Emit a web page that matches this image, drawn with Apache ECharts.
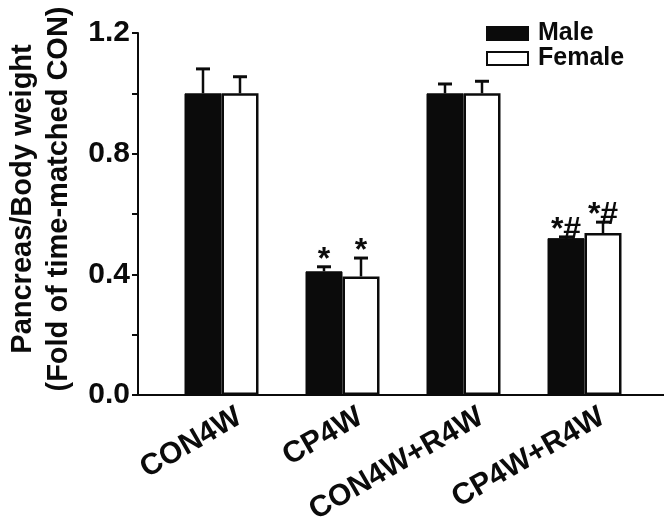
<!DOCTYPE html>
<html>
<head>
<meta charset="utf-8">
<script src="https://cdn.jsdelivr.net/npm/echarts@6/dist/echarts.min.js"></script>
<style>
  html, body { margin: 0; padding: 0; background: #fff; }
  #main { width: 664px; height: 522px; }
</style>
</head>
<body>
<div id="main"></div>
<script>
var chartDom = document.getElementById('main');
var myChart = echarts.init(chartDom);
var option;

// data
var categories = ['CON4W', 'CP4W', 'CON4W+R4W', 'CP4W+R4W'];
var maleValues = [1.0, 0.41, 1.0, 0.52];
var maleErrors = [0.081, 0.015, 0.031, 0.004];
var femaleValues = [1.0, 0.393, 1.0, 0.537];
var femaleErrors = [0.055, 0.061, 0.04, 0.036];
var maleMarks = ['', '*', '', '*#'];
var femaleMarks = ['', '*', '', '*#'];

var black = '#0b0b0b';
var font = 'Liberation Sans, Arial, sans-serif';
var barW = 37;

// error bar + significance mark, shifted to the bar's side
function errorBar(values, errors, marks, side) {
    return function (params, api) {
        var i = params.dataIndex;
        var shift = side * barW / 2;
        var top = api.coord([i, values[i]]);
        var hi = api.coord([i, values[i] + errors[i]]);
        var x = top[0] + shift;
        var kids = [
            {type: 'line', shape: {x1: x, y1: top[1], x2: x, y2: hi[1]},
             style: {stroke: black, lineWidth: 2.5}},
            {type: 'line', shape: {x1: x - 7, y1: hi[1], x2: x + 7, y2: hi[1]},
             style: {stroke: black, lineWidth: 3}}
        ];
        if (marks[i]) {
            kids.push({type: 'text', x: x, y: hi[1] - 7,
                style: {text: marks[i], fill: black, font: 'bold 32px ' + font,
                        align: 'center', verticalAlign: 'middle'}});
        }
        return {type: 'group', children: kids};
    };
}

var gridBase = {top: 33, bottom: 127, containLabel: false, outerBoundsMode: 'none'};

option = {
    animation: false,
    backgroundColor: '#fff',
    legend: {
        orient: 'vertical',
        left: 481,
        top: 16,
        itemWidth: 41,
        itemHeight: 13,
        itemGap: 0,
        icon: 'rect',
        textStyle: {fontFamily: font, fontWeight: 'bold', fontSize: 25, color: black,
                    lineHeight: 24, padding: [0, 0, 0, 5]},
        data: ['Male', 'Female']
    },
    grid: [
        Object.assign({left: 161, right: 19}, gridBase),
        Object.assign({left: 138, right: 0}, gridBase),
        Object.assign({left: 179, right: 1}, gridBase)
    ],
    xAxis: [{
        type: 'category',
        data: categories,
        gridIndex: 0,
        axisLine: {show: false},
        axisTick: {show: false},
        axisLabel: {show: false}
    }, {
        type: 'value',
        gridIndex: 1,
        min: 0, max: 1,
        axisLine: {show: true, onZero: false, lineStyle: {color: black, width: 2}},
        axisTick: {show: false},
        axisLabel: {show: false},
        splitLine: {show: false}
    }, {
        // label row, set a little right of the bars as in the figure
        type: 'category',
        data: categories,
        gridIndex: 2,
        axisLine: {show: false},
        axisTick: {show: false},
        axisLabel: {
            rotate: 30,
            margin: 20,
            color: black,
            fontFamily: font,
            fontWeight: 'bold',
            fontSize: 30,
            interval: 0
        }
    }],
    yAxis: [{
        type: 'value',
        gridIndex: 0,
        min: 0,
        max: 1.2,
        interval: 0.4,
        offset: 23,
        name: 'Pancreas/Body weight\n(Fold of time-matched CON)',
        nameLocation: 'middle',
        nameGap: 42,
        nameTextStyle: {fontFamily: font, fontWeight: 'bold', fontSize: 29, color: black,
                        lineHeight: 36, padding: [0, 0, 0, 30]},
        axisLine: {show: true, lineStyle: {color: black, width: 2}},
        axisTick: {show: true, length: 6, lineStyle: {color: black, width: 2}},
        minorTick: {show: true, splitNumber: 2, length: 6, lineStyle: {color: black, width: 2}},
        splitLine: {show: false},
        axisLabel: {
            margin: 8,
            color: black,
            fontFamily: font,
            fontWeight: 'bold',
            fontSize: 30,
            formatter: function (v) { return v.toFixed(1); }
        }
    }, {
        type: 'value',
        gridIndex: 1,
        min: 0, max: 1,
        show: false
    }, {
        type: 'value',
        gridIndex: 2,
        min: 0, max: 1,
        show: false
    }],
    series: [{
        name: 'Male',
        type: 'bar',
        data: maleValues,
        barWidth: barW,
        barGap: '0%',
        itemStyle: {color: black, borderColor: black, borderWidth: 1}
    }, {
        name: 'Female',
        type: 'bar',
        data: femaleValues,
        barWidth: barW,
        barGap: '0%',
        itemStyle: {color: '#fff', borderColor: black, borderWidth: 2.5}
    }, {
        type: 'custom',
        data: maleValues,
        renderItem: errorBar(maleValues, maleErrors, maleMarks, -1),
        z: 5
    }, {
        type: 'custom',
        data: femaleValues,
        renderItem: errorBar(femaleValues, femaleErrors, femaleMarks, 1),
        z: 5
    }]
};
myChart.setOption(option);
</script>
</body>
</html>
